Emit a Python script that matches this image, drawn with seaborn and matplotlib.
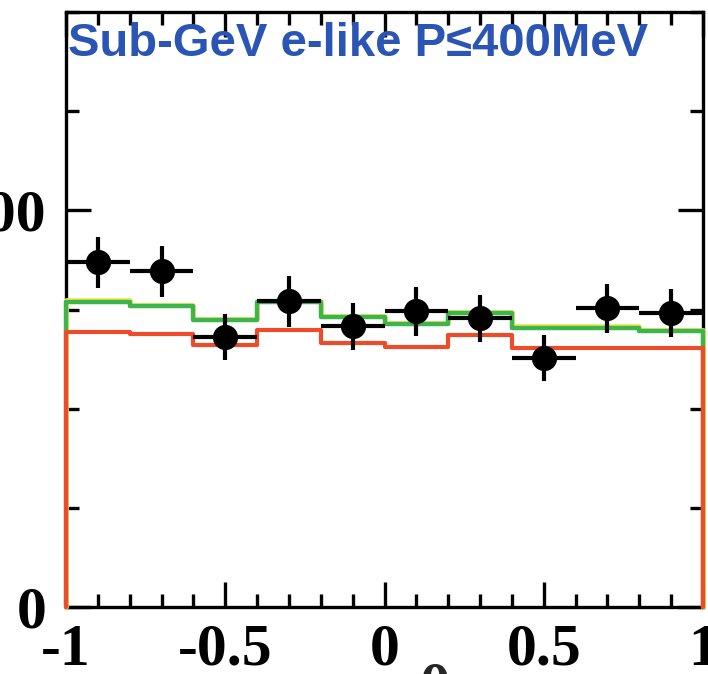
import numpy as np
import pandas as pd
import matplotlib
matplotlib.use("Agg")
import matplotlib.pyplot as plt
from matplotlib.ticker import MultipleLocator, FixedLocator
import seaborn as sns

# ---------------- data ----------------
bin_edges = [-1.0, -0.8, -0.6, -0.4, -0.2, 0.0, 0.2, 0.4, 0.6, 0.8, 1.0]
bin_centers = [-0.9, -0.7, -0.5, -0.3, -0.1, 0.1, 0.3, 0.5, 0.7, 0.9]
data_counts = [173.8, 169.3, 136.0, 154.2, 141.6, 149.1, 145.6, 125.4, 150.6, 148.1]
data_errors = [12.8, 12.8, 11.6, 12.8, 11.8, 12.3, 11.8, 11.6, 12.3, 12.1]
mc_yellow = [154.6, 152.5, 145.3, 154.4, 146.8, 143.4, 148.9, 141.5, 141.5, 139.8]
mc_green = [153.7, 151.6, 144.6, 153.7, 146.1, 142.6, 148.1, 140.6, 140.6, 139.0]
mc_red = [138.5, 137.5, 132.0, 139.5, 133.0, 131.0, 137.0, 130.5, 130.5, 130.5]
x_tick_values = [-1, -0.5, 0, 0.5, 1]
x_tick_labels = ["-1", "-0.5", "0", "0.5", "1"]
y_tick_values = [0, 200]
y_tick_labels = ["0", "200"]
title_text = "Sub-GeV e-like P\u2264400MeV"
x_label = "cos\u03b8"

# ---------------- style ----------------
sns.set_theme(style="ticks")
plt.rcParams["axes.unicode_minus"] = False
plt.rcParams["font.family"] = ["Liberation Serif", "DejaVu Serif"]

W, H = 708, 674
fig = plt.figure(figsize=(W / 100, H / 100), dpi=100)
ax = fig.add_axes([66 / W, 1 - 607 / H, (703 - 66) / W, (607 - 12) / H])

def step_frame(vals):
    xs = [bin_edges[0]] + bin_edges[:-1] + [bin_edges[-1]]
    ys = [0.0] + list(vals) + [0.0]
    return pd.DataFrame({"x": xs, "y": ys})

for vals, col, lw in [(mc_yellow, "#F2E64A", 3.4), (mc_green, "#3DB54A", 3.2), (mc_red, "#EE4B2B", 3.0)]:
    sns.lineplot(data=step_frame(vals), x="x", y="y", estimator=None, sort=False,
                 drawstyle="steps-post", color=col, linewidth=lw, ax=ax)
for ln in ax.get_lines():
    ln.set_clip_on(False)
    ln.set_zorder(3)

# data points
ax.errorbar(bin_centers, data_counts, yerr=data_errors, xerr=0.1, fmt="none",
            ecolor="black", elinewidth=3.0, capsize=0, zorder=4)
sns.scatterplot(x=bin_centers, y=data_counts, color="black", s=330, marker="o",
                edgecolor="black", linewidth=0, zorder=5, ax=ax)

ax.set_xlim(-1, 1)
ax.set_ylim(0, 300)

for sp in ax.spines.values():
    sp.set_visible(True)
    sp.set_linewidth(2.4)
    sp.set_color("black")

ax.xaxis.set_major_locator(FixedLocator(x_tick_values))
ax.set_xticklabels(x_tick_labels)
ax.xaxis.set_minor_locator(MultipleLocator(0.1))
ax.yaxis.set_major_locator(FixedLocator(y_tick_values))
ax.set_yticklabels(y_tick_labels)
ax.yaxis.set_minor_locator(MultipleLocator(50))

ax.tick_params(which="both", direction="in", top=True, right=True, color="black", width=2.4)
ax.tick_params(which="major", length=18)
ax.tick_params(which="minor", length=9.5)
ax.tick_params(axis="x", which="major", pad=12, labelsize=43)
ax.tick_params(axis="y", which="major", pad=14, labelsize=43)
for lab in ax.get_xticklabels() + ax.get_yticklabels():
    lab.set_fontweight("bold")
    lab.set_color("black")

ax.set_xlabel(x_label, fontsize=43, fontweight="bold")
ax.xaxis.set_label_coords(0.517, -0.097)
ax.xaxis.label.set_va("top")
ax.set_ylabel("")

ax.text(0.003, 0.983, title_text, transform=ax.transAxes, ha="left", va="top",
        fontsize=34, fontweight="bold", color="#2B55B5",
        family=["Liberation Sans", "DejaVu Sans"])

ax.set_facecolor("white")
fig.patch.set_facecolor("white")
fig.savefig("out.png", dpi=100)
